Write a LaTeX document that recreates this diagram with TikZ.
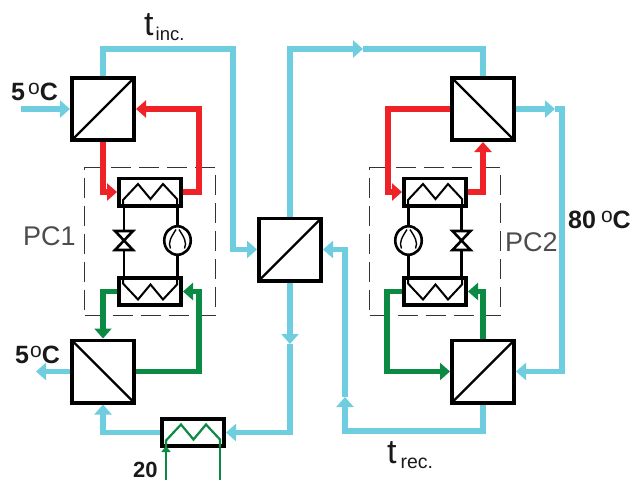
\documentclass[tikz,border=0pt]{standalone}
\usepackage{fontspec}
\setmainfont{Liberation Sans}
\usepackage{xcolor}
\usetikzlibrary{shapes.geometric, arrows.meta, positioning, calc}
\definecolor{coldblue}{HTML}{6FCDE0}
\definecolor{hotred}{HTML}{EE2227}
\definecolor{loopgreen}{HTML}{0B8A43}
\newcommand{\degC}{\raisebox{6pt}{\fontsize{21}{21}\mdseries\selectfont o}C}
\tikzset{
  hxbox/.style={rectangle,draw=black,fill=white,line width=3.6pt,minimum size=62.4pt,inner sep=0pt},
  hxup/.style={hxbox,path picture={\draw[line width=2.2pt] (path picture bounding box.south west) -- (path picture bounding box.north east);}},
  hxdown/.style={hxbox,path picture={\draw[line width=2.2pt] (path picture bounding box.north west) -- (path picture bounding box.south east);}},
  coilbox/.style={rectangle,draw=black,fill=white,line width=3.6pt,minimum width=62.4pt,minimum height=27.4pt,inner sep=0pt},
  pcbox/.style={rectangle,draw=black!80,line width=1.1pt,dash pattern=on 20pt off 8pt,minimum width=131pt,minimum height=148pt},
  tip/.style={-{Triangle[length=10pt,width=17pt]}},
  coldpipe/.style={draw=coldblue,line width=5.2pt},
  hotpipe/.style={draw=hotred,line width=5.2pt},
  greenpipe/.style={draw=loopgreen,line width=5.2pt},
  refline/.style={draw=black,line width=2.6pt},
  coilline/.style={draw=black,line width=2pt},
  feedline/.style={draw=loopgreen,line width=2.2pt},
  templabel/.style={font=\bfseries\fontsize{25}{25}\selectfont,inner sep=0pt,text=black!90},
  pclabel/.style={font=\fontsize{27}{27}\selectfont,inner sep=0pt,text=black!70},
  tlabel/.style={font=\fontsize{34}{34}\selectfont,inner sep=0pt,text=black!90},
  pics/coil/.style={code={
    \draw[#1] (-27,15) -- (-27,8) -- (-12,-8) -- (0.5,7) -- (13,-8) -- (27,7) -- (27,15);
  }},
  pics/valve/.style={code={
    \draw[refline,fill=white] (-9,-9.5) -- (9,-9.5) -- (-9,9.5) -- (9,9.5) -- cycle;
  }},
  pics/compressor/.style={code={
    \node[ellipse,draw=black,fill=white,line width=2.6pt,minimum width=26.5pt,minimum height=28.5pt,inner sep=0pt] at (0,0) {};
    \draw[line width=1.4pt] (-1.5,-11) .. controls (-6,-4) and (-10,2) .. (-7,8);
    \draw[line width=1.4pt] (1.5,-11) .. controls (6,-4) and (10,2) .. (7,8);
  }}
}
\begin{document}
\begin{tikzpicture}[x=1pt,y=-1pt]
  \useasboundingbox (0,0) rectangle (634,480);

  % exchangers
  \node[hxup] (hx1) at (103,109) {};
  \node[hxdown, below=196.5pt of hx1] (hx2) {};
  \node[hxup, right=121pt of hx1, yshift=-140.5pt] (hxc) {};
  \node[hxdown, right=314pt of hx1] (hx3) {};
  \node[hxup, below=196.5pt of hx3] (hx4) {};
  \node[coilbox, below=34.5pt of hx1, xshift=47pt] (cond1) {};
  \node[coilbox, below=68.5pt of cond1] (evap1) {};
  \node[coilbox, below=34.5pt of hx3, xshift=-48pt] (cond2) {};
  \node[coilbox, below=68.5pt of cond2] (evap2) {};
  \node[coilbox, below=12.5pt of hx2, xshift=90pt] (coilhx) {};

  \node[pcbox] (pc1) at ($(cond1)!0.5!(evap1)$) {};
  \node[pcbox] (pc2) at ($(cond2)!0.5!(evap2)$) {};

  % free ends and mid arrows
  \coordinate (coldin) at (21,109);
  \coordinate (coldout) at (36,371.5);
  \coordinate (inctop) at (233,49);
  \coordinate (recmid) at (363,49);
  \coordinate (hotmid) at (555,109);
  \coordinate (hotcorner) at (562,109);
  \coordinate (recbot) at (345,431);
  \coordinate (recmidb) at (345,397);
  \coordinate (incmidb) at (290,344);
  \coordinate (feedin) at (166,480);
  \coordinate (feedout) at (220,480);

  % cold circuit
  \draw[coldpipe,tip] (coldin) -- (hx1.west);
  \draw[coldpipe,tip] (hx1.north) |- (inctop) |- (hxc.west);
  \draw[coldpipe,tip] (hxc.north) |- (recmid);
  \draw[coldpipe] (recmid) -| (hx3.north);
  \draw[coldpipe,tip] (hx3.east) -- (hotmid);
  \draw[coldpipe,tip] (hotmid) -- (hotcorner) |- (hx4.east);
  \draw[coldpipe,tip] (hx4.south) |- (recbot) -- (recmidb);
  \draw[coldpipe,tip] (recmidb) |- (hxc.east);
  \draw[coldpipe,tip] (hxc.south) -- (incmidb);
  \draw[coldpipe,tip] (incmidb) |- (coilhx.east);
  \draw[coldpipe,tip] (coilhx.west) -| (hx2.south);
  \draw[coldpipe,tip] (hx2.west) -- (coldout);

  % hot side
  \draw[hotpipe,tip] (hx1.south) |- (cond1.west);
  \draw[hotpipe,tip] (cond1.east) -- ++(16,0) |- (hx1.east);
  \draw[hotpipe,tip] (hx3.west) -- ++(-62,0) |- (cond2.west);
  \draw[hotpipe,tip] (cond2.east) -| (hx3.south);

  % cold side
  \draw[greenpipe,tip] (evap1.west) -| (hx2.north);
  \draw[greenpipe,tip] (hx2.east) -- ++(63,0) |- (evap1.east);
  \draw[greenpipe,tip] (evap2.west) -- ++(-15,0) |- (hx4.west);
  \draw[greenpipe,tip] (hx4.north) |- (evap2.east);

  % heat pumps
  \draw[refline] ([xshift=-26pt]cond1.south) -- ([xshift=-26pt]evap1.north);
  \draw[refline] ([xshift=27.5pt]cond1.south) -- ([xshift=27.5pt]evap1.north);
  \draw[refline] ([xshift=-26.5pt]cond2.south) -- ([xshift=-26.5pt]evap2.north);
  \draw[refline] ([xshift=26.5pt]cond2.south) -- ([xshift=26.5pt]evap2.north);
  \pic at (124,240.5) {valve};
  \pic at (177.5,240.5) {compressor};
  \pic at (408.5,240.5) {compressor};
  \pic at (461.5,240.5) {valve};
  \pic at (cond1) {coil=coilline};
  \pic at (cond2) {coil=coilline};
  \pic[yscale=-1] at (evap1) {coil=coilline};
  \pic[yscale=-1] at (evap2) {coil=coilline};

  % supply coil
  \pic at (coilhx) {coil=feedline};
  \draw[feedline,-{Triangle[length=6pt,width=9pt]}] (feedin) -- ([xshift=-27pt,yshift=2pt]coilhx.south);
  \draw[feedline] (feedout) -- ([xshift=27pt]coilhx.south);

  % labels
  \node[tlabel, anchor=base west] (tinc) at (144,35) {t\kern2pt\raisebox{-5pt}{\fontsize{18.5}{18.5}\selectfont inc.}};
  \node[tlabel, anchor=base west] (trec) at (387,463) {t\kern4pt\raisebox{-5pt}{\fontsize{19.5}{19.5}\selectfont rec.}};
  \node[templabel, anchor=base west] (tempa) at (11,100) {5\kern3pt\degC};
  \node[templabel, anchor=base west] (tempb) at (15,363) {5\kern1pt\degC};
  \node[templabel, anchor=base west] (tempc) at (568,228) {80\kern5pt\degC};
  \node[templabel, anchor=base west] (tempd) at (133,477) {\fontsize{22}{22}\selectfont 20};
  \node[pclabel, anchor=base west] (pc1label) at (23,245) {PC1};
  \node[pclabel, anchor=base west] (pc2label) at (505,251) {PC2};
\end{tikzpicture}
\end{document}
